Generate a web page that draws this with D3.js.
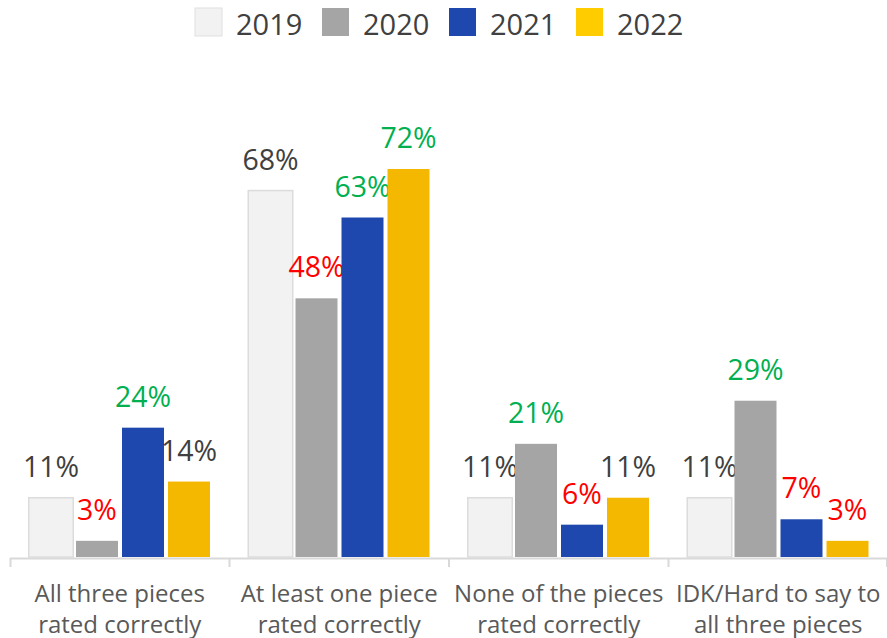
<!DOCTYPE html>
<html>
<head>
<meta charset="utf-8">
<script src="https://cdn.jsdelivr.net/npm/d3@7"></script>
<style>
  html, body { margin: 0; padding: 0; background: #fff; }
  svg { display: block; }
</style>
</head>
<body>
<svg id="chart" width="887" height="638"></svg>
<script>
// Share of respondents by outcome, per survey year
const categories = [
  ["All three pieces", "rated correctly"],
  ["At least one piece", "rated correctly"],
  ["None of the pieces", "rated correctly"],
  ["IDK/Hard to say to", "all three pieces"]
];
const years = ["2019", "2020", "2021", "2022"];
const values2019 = [11, 68, 11, 11];
const values2020 = [3, 48, 21, 29];
const values2021 = [24, 63, 6, 7];
const values2022 = [14, 72, 11, 3];
// change marker for each label: 0 = neutral, 1 = up, -1 = down
const change2019 = [0, 0, 0, 0];
const change2020 = [-1, -1, 1, 1];
const change2021 = [1, 1, -1, -1];
const change2022 = [0, 1, 0, -1];

const series = [values2019, values2020, values2021, values2022];
const changes = [change2019, change2020, change2021, change2022];

const barFill = ["#f2f2f2", "#a5a5a5", "#1f48ae", "#f5b800"];
const legendFill = ["#f2f2f2", "#a5a5a5", "#1f48ae", "#ffcc00"];
const toneColor = { "0": "#404040", "1": "#00b050", "-1": "#ff0000" };

const svg = d3.select("#chart");
const baseY = 557;

const x0 = d3.scaleBand().domain(d3.range(categories.length)).range([10, 888]);
const x1 = d3.scaleBand().domain(years).range([18, x0.bandwidth() - 17.5]);
const y = d3.scaleLinear().domain([0, 72]).range([baseY, 169]);

// bars and value labels
const groups = svg.selectAll("g.cat")
  .data(categories)
  .join("g")
  .attr("class", "cat")
  .attr("transform", (d, i) => `translate(${x0(i)},0)`);

groups.each(function (d, ci) {
  const g = d3.select(this);
  years.forEach((yr, si) => {
    const v = series[si][ci];
    const bx = x1(yr);
    const bw = x1.bandwidth();
    if (si === 0) {
      g.append("rect")
        .attr("x", bx + 0.75).attr("y", y(v))
        .attr("width", bw - 1.5).attr("height", baseY - y(v))
        .attr("fill", barFill[si])
        .attr("stroke", "#dcdcdc").attr("stroke-width", 1.5);
    } else {
      g.append("rect")
        .attr("x", bx + 2).attr("y", y(v))
        .attr("width", bw - 4).attr("height", baseY - y(v))
        .attr("fill", barFill[si]);
    }
    g.append("text")
      .attr("x", bx + bw / 2)
      .attr("y", y(v) - 21)
      .attr("text-anchor", "middle")
      .attr("font-family", "'Open Sans', sans-serif")
      .attr("font-size", 28.5)
      .attr("fill", toneColor[String(changes[si][ci])])
      .text(v + "%");
  });
});

// category axis
const axis = svg.append("g");
axis.append("line")
  .attr("x1", 10).attr("x2", 887)
  .attr("y1", baseY + 1.5).attr("y2", baseY + 1.5)
  .attr("stroke", "#d9d9d9").attr("stroke-width", 2);
const tickPos = d3.range(categories.length + 1).map(i => i < categories.length ? x0(i) : 887);
axis.selectAll("line.tick")
  .data(tickPos)
  .join("line")
  .attr("class", "tick")
  .attr("x1", d => d === 10 ? 10.5 : d).attr("x2", d => d === 10 ? 10.5 : d)
  .attr("y1", baseY + 1).attr("y2", baseY + 10)
  .attr("stroke", "#d9d9d9").attr("stroke-width", 2);

const catLabels = axis.selectAll("text.cat")
  .data(categories)
  .join("text")
  .attr("class", "cat")
  .attr("text-anchor", "middle")
  .attr("font-family", "'Open Sans', sans-serif")
  .attr("font-size", 24)
  .attr("fill", "#595959")
  .attr("transform", (d, i) => `translate(${x0(i) + x0.bandwidth() / 2},0)`);
catLabels.selectAll("tspan")
  .data(d => d)
  .join("tspan")
  .attr("x", 0)
  .attr("y", (d, i) => 602 + i * 31)
  .text(d => d);

// legend
const legendX = [195, 322, 449, 576];
const legend = svg.append("g");
years.forEach((yr, i) => {
  legend.append("rect")
    .attr("x", legendX[i]).attr("y", 8)
    .attr("width", 27).attr("height", 28)
    .attr("fill", legendFill[i])
    .attr("stroke", i === 0 ? "#e0e0e0" : "none")
    .attr("stroke-width", 1);
  legend.append("text")
    .attr("x", legendX[i] + 41).attr("y", 35)
    .attr("font-family", "'Open Sans', sans-serif")
    .attr("font-size", 29)
    .attr("fill", "#404040")
    .text(yr);
});
</script>
</body>
</html>
